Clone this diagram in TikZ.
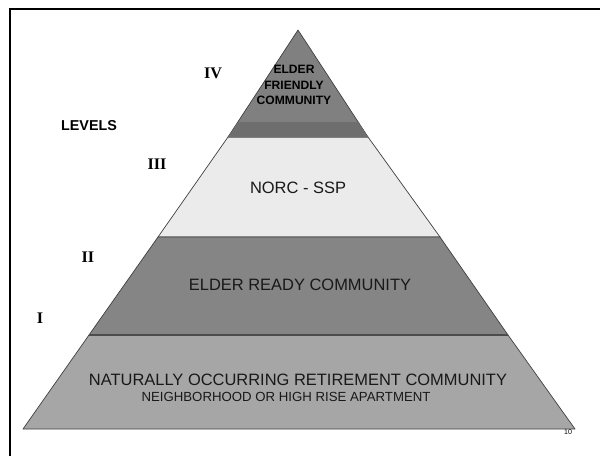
\documentclass[tikz,border=0pt]{standalone}
\usepackage{fontspec}
\setmainfont{Liberation Sans}
\newfontfamily\numfont{Liberation Serif}
\usetikzlibrary{positioning}

\begin{document}
\begin{tikzpicture}[x=0.025cm, y=-0.025cm,
   band/.style={draw=black!75, line width=0.5pt, line join=round},
   numeral/.style={font=\numfont\bfseries\fontsize{11.5}{12}\selectfont, inner sep=0},
   label/.style={font=\fontsize{11.7}{13}\selectfont, inner sep=0, text=black!90}]
   \useasboundingbox (0,0) rectangle (600,456);
   \draw[line width=1.2pt] (600,9) -- (10,9) -- (10,456);

   \coordinate (apex) at (298,30);
   \coordinate (bl) at (23,429);
   \coordinate (br) at (575,429);

   \filldraw[band, fill=black!8] (228,137) -- (368,137) -- (440,237) -- (158,237) -- cycle;
   \filldraw[band, fill=black!48] (158,237) -- (440,237) -- (508,335) -- (89,335) -- cycle;
   \filldraw[band, fill=black!35] (89,335) -- (508,335) -- (br) -- (bl) -- cycle;
   \filldraw[band, fill=black!50] (apex) -- (368,137) -- (228,137) -- cycle;
   \fill[black!57] (238,122) -- (358,122) -- (368,137) -- (228,137) -- cycle;
   \draw[line width=1.8pt, black!70] (89,335) -- (508,335);

   \node (levels) at (89,126) [font=\bfseries\fontsize{10.2}{12}\selectfont, inner sep=0] {LEVELS};
   \node (lvl4) at (213,73) [numeral] {IV};
   \node (lvl3) at (157,164) [numeral] {III};
   \node (lvl2) at (88,257) [numeral] {II};
   \node (lvl1) at (40,318) [numeral] {I};

   \node (efc) at (294,85) [font=\bfseries\fontsize{8.6}{11}\selectfont, align=center, inner sep=0] {ELDER\\FRIENDLY\\COMMUNITY};
   \node (norc) at (298,188) [label] {NORC - SSP};
   \node (erc) at (300,285) [label] {ELDER READY COMMUNITY};
   \node (nrc) at (298,380) [label] {NATURALLY OCCURRING RETIREMENT COMMUNITY};
   \node (home) at (286,397) [label, font=\fontsize{9.4}{11}\selectfont] {NEIGHBORHOOD OR HIGH RISE APARTMENT};
   \node (page) at (568,432) [font=\fontsize{5}{6}\selectfont, inner sep=0] {10};
\end{tikzpicture}
\end{document}
